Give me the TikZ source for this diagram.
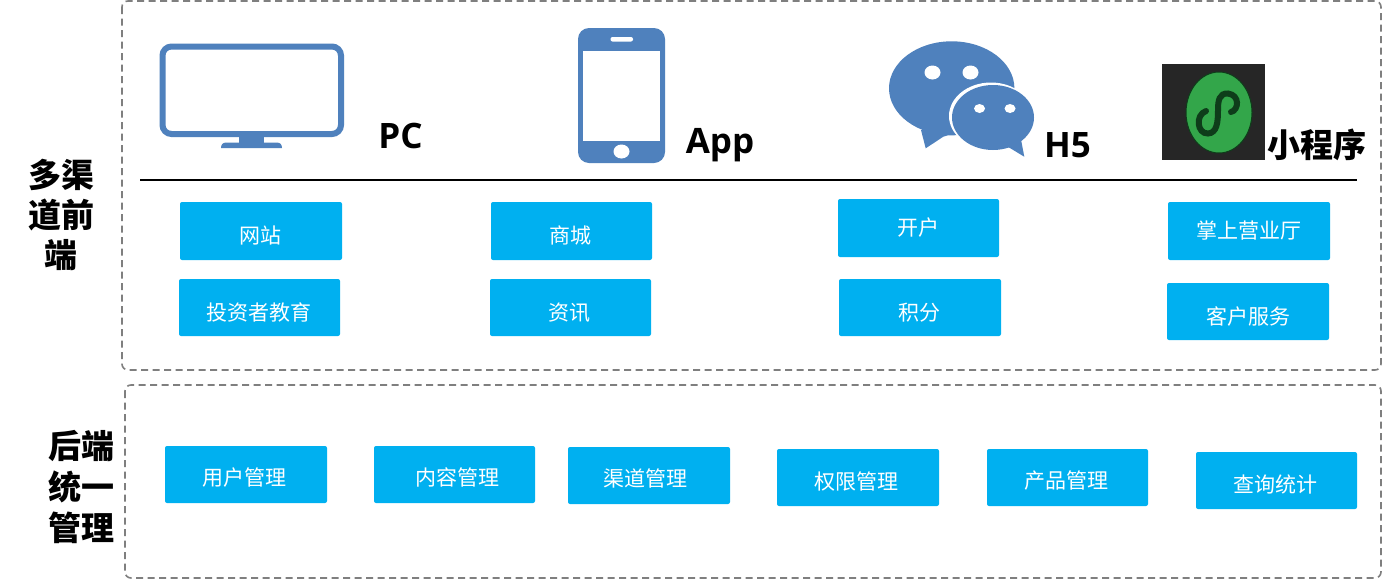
\documentclass[tikz,border=0pt]{standalone}
\usepackage{fontspec}
\setmainfont{Open Sans}
\newfontfamily\cjk{Noto Sans CJK SC}
\definecolor{iconblue}{HTML}{4F81BD}
\definecolor{boxblue}{HTML}{00B0F0}
\definecolor{dashgray}{HTML}{7F7F7F}
\definecolor{appgreen}{HTML}{33A64A}
\definecolor{appdark}{HTML}{262626}
\definecolor{appline}{HTML}{0E3D1A}
\tikzset{
  panel/.style={draw=dashgray,line width=1.6pt,dash pattern=on 7pt off 4.5pt,rounded corners=6pt},
  bluebox/.style={fill=boxblue,rounded corners=2pt},
  boxtext/.style={text=white,font=\cjk\fontsize{21}{24}\selectfont,inner sep=0pt,anchor=center},
  sidetext/.style={text=black,font=\cjk\bfseries\fontsize{33}{40}\selectfont,inner sep=0pt,align=center,anchor=center},
  channel/.style={text=black,font=\bfseries\fontsize{35}{40}\selectfont,inner sep=0pt,anchor=center},
  icon/.style={fill=iconblue,draw=none},
}
\newcommand{\bx}[7]{% name x1 y1 x2 y2 dx dy text
  \fill[bluebox] (#2,#3) rectangle (#4,#5);
  \node[boxtext] (#1) at ({(#2+#4)/2+#6},{(#3+#5)/2+#7}) }
\begin{document}
\begin{tikzpicture}[x=1pt,y=-1pt]
\useasboundingbox (0,0) rectangle (1387,579);
\fill[white] (0,0) rectangle (1387,579);
% panels
\draw[panel] (122,1) rectangle (1381,370);
\draw[panel] (125,385) rectangle (1381,578);
% side labels
\node[sidetext] (front) at (61,215) {多渠\\道前\\端};
\node[sidetext] (back) at (81,487) {后端\\[1pt]统一\\[1pt]管理};
% divider
\coordinate (divL) at (140,179.5);
\coordinate (divR) at (1357,179.5);
\draw[black,line width=2pt] (divL) -- (divR);
% monitor
\draw[iconblue,line width=6pt,rounded corners=9pt] (162.5,46.5) rectangle (341,134);
\fill[icon] (239,134) rectangle (264,143);
\fill[icon] (221,148) .. controls (221,144) and (223,142.5) .. (227,142.5) -- (276,142.5) .. controls (280,142.5) and (282,144) .. (282,148) -- cycle;
% phone
\fill[icon,rounded corners=11pt] (578,28) rectangle (665,163);
\fill[white] (583,50.5) rectangle (660,140.5);
\fill[white,rounded corners=2pt] (610.5,37) rectangle (633,41.5);
\fill[white] (621.5,151.5) ellipse [x radius=8, y radius=7];
% wechat
\fill[icon] (951.7,88.3) ellipse [x radius=62.7, y radius=47];
\fill[icon] (921,130) -- (925.7,148.3) -- (943.3,136.7) -- (965,130) -- cycle;
\fill[white] (932.5,72.5) ellipse [x radius=8, y radius=7];
\fill[white] (970.5,72.5) ellipse [x radius=8, y radius=7];
\fill[white] (991,116) ellipse [x radius=42, y radius=33.5];
\fill[icon] (993,117.5) ellipse [x radius=41, y radius=32.5];
\fill[icon] (1007.7,146.7) -- (1024.3,156.7) -- (1020.7,138) -- cycle;
\fill[white] (979.5,108.5) ellipse [x radius=5.5, y radius=4.5];
\fill[white] (1010,108.5) ellipse [x radius=5.5, y radius=4.5];
% mini program
\fill[appdark] (1162,64) rectangle (1265,160);
\fill[appgreen,draw=appline,line width=1pt] (1219,112.5) ellipse [x radius=33, y radius=40.5];
\draw[appline,line width=6pt,line cap=round] (1231,112) .. controls (1239,110) and (1240,95) .. (1228,93.5) .. controls (1219,93) and (1218,101) .. (1218,110) .. controls (1218,122) and (1217,133) .. (1208,133.5) .. controls (1197,134) and (1195,115) .. (1206,111);
% channel labels
\node[channel] (pc) at (400.5,136) {PC};
\node[channel] (app) at (720,145) {App};
\node[channel] (h5) at (1067.5,145) {H5};
\node[channel,font=\cjk\bfseries\fontsize{33}{40}\selectfont] (mini) at (1317,145) {小程序};
% front boxes
\bx{b1}{180}{202}{342}{260}{-1}{4}{网站};
\bx{b2}{491}{202}{652}{260}{-1}{5}{商城};
\bx{b3}{838}{199}{999}{257}{0}{0}{开户};
\bx{b4}{1168}{202}{1330}{260}{0}{0}{掌上营业厅};
\bx{b5}{179}{279}{340}{336}{-1}{5}{投资者教育};
\bx{b6}{490}{279}{651}{336}{-1}{5}{资讯};
\bx{b7}{839}{279}{1001}{336}{-1}{5}{积分};
\bx{b8}{1167}{283}{1329}{340}{0}{5}{客户服务};
% back boxes
\bx{c1}{165}{446}{327}{503}{-1.5}{3}{用户管理};
\bx{c2}{374}{446}{535}{503}{2.5}{3}{内容管理};
\bx{c3}{568}{447}{730}{504}{-4}{2.5}{渠道管理};
\bx{c4}{777}{449}{939}{506}{-2}{4}{权限管理};
\bx{c5}{987}{449}{1148}{506}{-1.5}{3.5}{产品管理};
\bx{c6}{1196}{452}{1357}{509}{-1}{3.5}{查询统计};
\end{tikzpicture}
\end{document}
